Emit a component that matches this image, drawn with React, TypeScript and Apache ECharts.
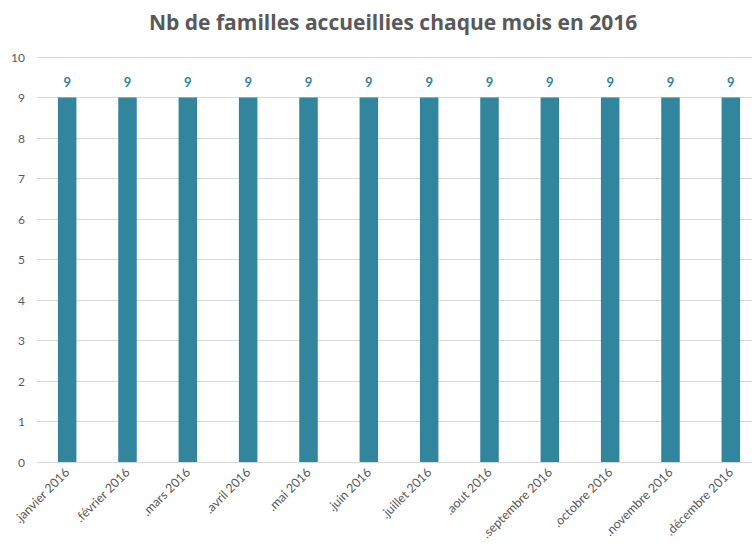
import React, { useEffect, useRef } from "react";
import * as echarts from "echarts";

const categories = [
  ".janvier 2016", ".février 2016", ".mars 2016", ".avril 2016", ".mai 2016", ".juin 2016",
  ".juillet 2016", ".aout 2016", ".septembre 2016", ".octobre 2016", ".novembre 2016", ".décembre 2016",
];
const values = [9, 9, 9, 9, 9, 9, 9, 9, 9, 9, 9, 9];
const title = "Nb de familles accueillies chaque mois en 2016";

export default function App() {
  const ref = useRef<HTMLDivElement>(null);
  useEffect(() => {
    const chart = echarts.init(ref.current!, null, { renderer: "svg" });
    chart.setOption({
      animation: false,
      title: {
        text: title,
        left: 144,
        top: 6,
        textStyle: { fontFamily: "Open Sans", fontWeight: "bold", fontSize: 21, color: "#595959" },
      },
      grid: {
        left: 37,
        width: 724,
        top: 57,
        bottom: 84,
        containLabel: false,
        outerBoundsMode: "none",
      },
      xAxis: {
        type: "category",
        data: categories,
        axisLine: { lineStyle: { color: "#d9d9d9" } },
        axisTick: { show: false },
        axisLabel: {
          rotate: 45,
          interval: 0,
          color: "#595959",
          fontFamily: "Lato",
          fontSize: 12.5,
          margin: 8,
        },
      },
      yAxis: {
        type: "value",
        min: 0,
        max: 10,
        interval: 1,
        axisLine: { show: false },
        axisTick: { show: false },
        splitLine: { lineStyle: { color: "#d9d9d9" } },
        axisLabel: { color: "#595959", fontFamily: "Lato", fontSize: 12, margin: 12 },
      },
      series: [
        {
          type: "bar",
          data: values,
          barWidth: 18.5,
          itemStyle: { color: "#31859C" },
          label: {
            show: true,
            position: "top",
            distance: 9,
            color: "#31859C",
            fontWeight: "bold",
            fontFamily: "Lato",
            fontSize: 13,
          },
        },
      ],
    });
    return () => chart.dispose();
  }, []);
  return <div ref={ref} style={{ width: 752, height: 546, position: "absolute", left: 0, top: 0 }} />;
}
